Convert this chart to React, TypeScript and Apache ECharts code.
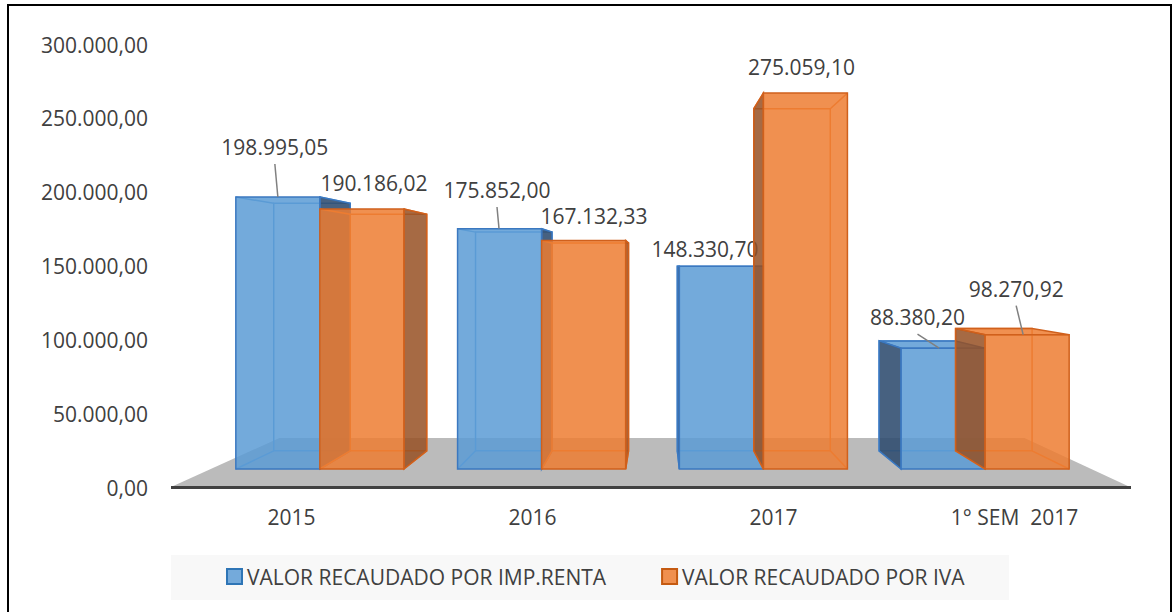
import React, { useEffect, useRef } from 'react';
import * as echarts from 'echarts';

// ---------- data ----------
const categories = ['2015', '2016', '2017', '1° SEM  2017'];
const seriesNames = ['VALOR RECAUDADO POR IMP.RENTA', 'VALOR RECAUDADO POR IVA'];
const rentaValues = [198995.05, 175852.0, 148330.7, 88380.2];
const ivaValues = [190186.02, 167132.33, 275059.1, 98270.92];
const yMin = 0;
const yMax = 300000;
const yInterval = 50000;

// ---------- style (label placement, perspective) ----------
const rentaLabelOffsets = [[-3, -50], [-2.6, -38.7], [-16.4, -17.3], [-25.6, -31]];
const ivaLabelOffsets = [[12, -25.6], [10.4, -24.6], [-3.9, -26], [-11, -46]];
const rentaLeaders = [[0, 0], [-0.6, 0], null, [-4, 0]] as (number[] | null)[];
const ivaLeaders = [null, null, null, [-4, 0]] as (number[] | null)[];

const VP = [657, 267];
const DEPTH = 0.09;
const BAR_RATIO = 0.379;
const FONT = '"Open Sans", "Noto Sans", sans-serif';
const TEXT = '#404040';

const bluePal = {
  front: 'rgba(91,155,213,0.85)',
  top: 'rgba(91,155,213,0.85)',
  side: 'rgba(45,75,110,0.88)',
  edge: '#3b78c0',
  inner: '#5a98d6',
};
const orangePal = {
  front: 'rgba(237,125,49,0.85)',
  top: 'rgba(237,125,49,0.85)',
  side: 'rgba(150,80,35,0.85)',
  edge: '#d0601c',
  inner: '#e8782e',
};

function fmt(v: number): string {
  const [i, d] = Number(v).toFixed(2).split('.');
  return i.replace(/\B(?=(\d{3})+(?!\d))/g, '.') + ',' + d;
}

function makeRender(side: number, pal: any, offsets: number[][], leaders: (number[] | null)[]) {
  return (params: any, api: any) => {
    const idx = params.dataIndex;
    const i = api.value(0);
    const v = api.value(1);
    const top = api.coord([i, v]);
    const base = api.coord([i, 0]);
    const band = api.size([1, 0])[0];
    const w = band * BAR_RATIO;
    const x0 = side === 0 ? top[0] - w : top[0];
    const x1 = x0 + w;
    const yT = top[1];
    const yB = base[1];
    const bk = (x: number, y: number) => [x + DEPTH * (VP[0] - x), y + DEPTH * (VP[1] - y)];
    const fTL = [x0, yT], fTR = [x1, yT], fBR = [x1, yB], fBL = [x0, yB];
    const bTL = bk(x0, yT), bTR = bk(x1, yT), bBR = bk(x1, yB), bBL = bk(x0, yB);
    const cx = (x0 + x1) / 2;
    const topVisible = yT > VP[1];
    const children: any[] = [];
    children.push({ type: 'polygon', shape: { points: [bTL, bTR, bBR, bBL] }, style: { fill: 'none', stroke: pal.inner, lineWidth: 1.5 } });
    children.push({ type: 'polyline', shape: { points: [fBL, bBL] }, style: { fill: 'none', stroke: pal.inner, lineWidth: 1.5 } });
    children.push({ type: 'polyline', shape: { points: [fBR, bBR] }, style: { fill: 'none', stroke: pal.inner, lineWidth: 1.5 } });
    if (topVisible) {
      children.push({ type: 'polygon', shape: { points: [fTL, fTR, bTR, bTL] }, style: { fill: pal.top, stroke: pal.edge, lineWidth: 1.5 } });
    } else {
      children.push({ type: 'polyline', shape: { points: [fTL, bTL] }, style: { fill: 'none', stroke: pal.inner, lineWidth: 1.5 } });
      children.push({ type: 'polyline', shape: { points: [fTR, bTR] }, style: { fill: 'none', stroke: pal.inner, lineWidth: 1.5 } });
    }
    const sidePts = cx < VP[0] ? [fTR, bTR, bBR, fBR] : [fTL, bTL, bBL, fBL];
    children.push({ type: 'polygon', shape: { points: sidePts }, style: { fill: pal.side, stroke: pal.edge, lineWidth: 1.5 } });
    children.push({ type: 'rect', shape: { x: x0, y: yT, width: w, height: yB - yT }, style: { fill: pal.front, stroke: pal.edge, lineWidth: 1.5 } });
    const off = offsets[idx];
    const lx = cx + off[0];
    const ly = yT + off[1];
    const ld = leaders[idx];
    if (ld) {
      children.push({ type: 'line', shape: { x1: lx, y1: ly + 17, x2: cx + ld[0], y2: yT + ld[1] }, style: { stroke: '#808080', lineWidth: 1.5 } });
    }
    children.push({
      type: 'text', x: lx, y: ly,
      style: { text: fmt(v), fill: TEXT, fontSize: 21, fontFamily: FONT, align: 'center', verticalAlign: 'middle' },
    });
    return { type: 'group', children };
  };
}

export default function App() {
  const ref = useRef<HTMLDivElement>(null);
  useEffect(() => {
    if (!ref.current) return;
    const chart = echarts.init(ref.current, undefined, { renderer: 'svg' });
    const floorFront = [[171, 487], [1130, 487]];
    const fk = 0.223;
    const back = (p: number[]) => [p[0] + fk * (VP[0] - p[0]), p[1] + fk * (VP[1] - p[1])];
    const option: any = {
      animation: false,
      textStyle: { fontFamily: FONT },
      grid: [
        { left: 171, width: 964, top: 44.5, height: 443 },
        { left: 209, width: 887, top: 59, height: 410 },
      ],
      xAxis: [
        {
          type: 'category', gridIndex: 0, data: categories,
          axisLine: { show: false },
          axisTick: { show: false },
          axisLabel: { margin: 19, fontSize: 21, color: TEXT, fontFamily: FONT },
        },
        { type: 'category', gridIndex: 1, data: categories, show: false },
      ],
      yAxis: [
        {
          type: 'value', gridIndex: 0, min: yMin, max: yMax, interval: yInterval,
          axisLine: { show: false }, axisTick: { show: false }, splitLine: { show: false },
          axisLabel: { formatter: fmt, margin: 23, fontSize: 21, color: TEXT, fontFamily: FONT },
        },
        { type: 'value', gridIndex: 1, min: yMin, max: yMax, show: false },
      ],
      legend: {
        left: 226, top: 566, padding: 0, itemWidth: 15, itemHeight: 15, itemGap: 55,
        textStyle: { fontSize: 21, color: TEXT, fontFamily: FONT },
        data: [
          { name: seriesNames[0], icon: 'rect', itemStyle: { color: '#74aadb', borderColor: '#2e75b6', borderWidth: 2 } },
          { name: seriesNames[1], icon: 'rect', itemStyle: { color: '#f0904f', borderColor: '#c55a11', borderWidth: 2 } },
        ],
      },
      graphic: [
        { type: 'rect', z: 0, shape: { x: 171, y: 555, width: 838, height: 45 }, style: { fill: '#f8f8f8' } },
        {
          type: 'polygon', z: 0,
          shape: { points: [floorFront[0], floorFront[1], back(floorFront[1]), back(floorFront[0])] },
          style: { fill: '#bbbbbb' },
        },
        { type: 'line', z: 1, shape: { x1: 171, y1: 487.5, x2: 1131, y2: 487.5 }, style: { stroke: '#404040', lineWidth: 3 } },
        { type: 'rect', z: 10, shape: { x: 8, y: 5, width: 1163, height: 640 }, style: { fill: 'none', stroke: '#000', lineWidth: 2 } },
      ],
      series: [
        {
          type: 'custom', name: seriesNames[0], xAxisIndex: 1, yAxisIndex: 1,
          itemStyle: { color: '#74aadb', borderColor: '#2e75b6' },
          encode: { x: 0, y: 1 },
          data: rentaValues.map((v, i) => [i, v]),
          renderItem: makeRender(0, bluePal, rentaLabelOffsets, rentaLeaders),
        },
        {
          type: 'custom', name: seriesNames[1], xAxisIndex: 1, yAxisIndex: 1,
          itemStyle: { color: '#f0904f', borderColor: '#c55a11' },
          encode: { x: 0, y: 1 },
          data: ivaValues.map((v, i) => [i, v]),
          renderItem: makeRender(1, orangePal, ivaLabelOffsets, ivaLeaders),
        },
      ],
    };
    chart.setOption(option);
    return () => chart.dispose();
  }, []);
  return <div ref={ref} style={{ position: 'absolute', left: 0, top: 0, width: 1175, height: 612 }} />;
}
